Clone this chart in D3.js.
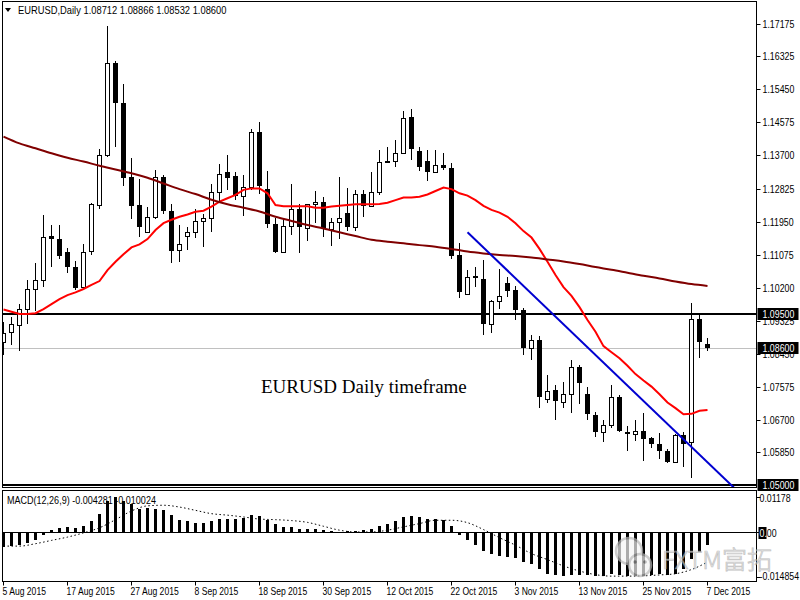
<!DOCTYPE html>
<html>
<head>
<meta charset="utf-8">
<script src="https://cdn.jsdelivr.net/npm/d3@7"></script>
<style>
  body { margin: 0; background: #fff; }
  svg { display: block; }
</style>
</head>
<body>
<div id="chart"></div>
<script>
// bar dates shown on the time axis (one every 8 bars)
const dateLabels = ["5 Aug 2015", "17 Aug 2015", "27 Aug 2015", "8 Sep 2015", "18 Sep 2015", "30 Sep 2015",
    "12 Oct 2015", "22 Oct 2015", "3 Nov 2015", "13 Nov 2015", "25 Nov 2015", "7 Dec 2015"];

// daily OHLC, EURUSD, 5 Aug - 7 Dec 2015
const opens = [1.0878, 1.0903, 1.0922, 1.0963, 1.1016, 1.1040, 1.1157, 1.1148, 1.1114, 1.1074,
    1.1021, 1.1118, 1.1239, 1.1370, 1.1614, 1.1510, 1.1313, 1.1239, 1.1167, 1.1207,
    1.1312, 1.1222, 1.1120, 1.1158, 1.1167, 1.1198, 1.1204, 1.1274, 1.1325, 1.1316,
    1.1264, 1.1286, 1.1433, 1.1281, 1.1188, 1.1116, 1.1184, 1.1228, 1.1177, 1.1241,
    1.1246, 1.1176, 1.1193, 1.1217, 1.1182, 1.1267, 1.1236, 1.1273, 1.1356, 1.1355,
    1.1376, 1.1471, 1.1382, 1.1355, 1.1325, 1.1345, 1.1338, 1.1107, 1.1003, 1.1051,
    1.1044, 1.0924, 1.0985, 1.1032, 1.1014, 1.0962, 1.0862, 1.0882, 1.0726, 1.0750,
    1.0719, 1.0739, 1.0810, 1.0739, 1.0684, 1.0638, 1.0658, 1.0731, 1.0638, 1.0633,
    1.0641, 1.0622, 1.0606, 1.0589, 1.0561, 1.0631, 1.0612, 1.0938, 1.08712];
const highs = [1.0931, 1.0944, 1.0977, 1.1041, 1.1085, 1.1213, 1.1186, 1.1186, 1.1125, 1.1091,
    1.1135, 1.1244, 1.1386, 1.1712, 1.1620, 1.1558, 1.1363, 1.1308, 1.1235, 1.1332,
    1.1318, 1.1241, 1.1186, 1.1182, 1.1228, 1.1214, 1.1294, 1.1347, 1.1371, 1.1325,
    1.1318, 1.1440, 1.1459, 1.1329, 1.1204, 1.1206, 1.1294, 1.1243, 1.1243, 1.1277,
    1.1261, 1.1206, 1.1314, 1.1285, 1.1279, 1.1279, 1.1327, 1.1384, 1.1393, 1.1411,
    1.1488, 1.1493, 1.1393, 1.1384, 1.1384, 1.1376, 1.1349, 1.1138, 1.1067, 1.1076,
    1.1094, 1.0988, 1.1070, 1.1050, 1.1026, 1.0966, 1.0896, 1.0894, 1.0790, 1.0763,
    1.0770, 1.0829, 1.0816, 1.0757, 1.0691, 1.0670, 1.0763, 1.0737, 1.0655, 1.0670,
    1.0688, 1.0627, 1.0636, 1.0594, 1.0633, 1.0638, 1.0979, 1.0953, 1.08866];
const lows = [1.0843, 1.0869, 1.0852, 1.0924, 1.0959, 1.1023, 1.1076, 1.1096, 1.1059, 1.1015,
    1.1017, 1.1107, 1.1228, 1.1367, 1.1393, 1.1288, 1.1202, 1.1155, 1.1164, 1.1203,
    1.1214, 1.1085, 1.1089, 1.1120, 1.1151, 1.1129, 1.1169, 1.1250, 1.1279, 1.1252,
    1.1211, 1.1279, 1.1267, 1.1179, 1.1111, 1.1111, 1.1160, 1.1113, 1.1144, 1.1191,
    1.1155, 1.1132, 1.1148, 1.1170, 1.1170, 1.1208, 1.1234, 1.1266, 1.1352, 1.1340,
    1.1373, 1.1358, 1.1329, 1.1303, 1.1323, 1.1332, 1.1096, 1.0994, 1.1001, 1.1023,
    1.0896, 1.0900, 1.0964, 1.0997, 1.0935, 1.0843, 1.0829, 1.0703, 1.0717, 1.0671,
    1.0703, 1.0688, 1.0712, 1.0671, 1.0627, 1.0613, 1.0649, 1.0638, 1.0590, 1.0616,
    1.0563, 1.0598, 1.0567, 1.0558, 1.0561, 1.0547, 1.0518, 1.0834, 1.08532];
const closes = [1.0900, 1.0924, 1.0963, 1.1016, 1.1040, 1.1154, 1.1148, 1.1105, 1.1074, 1.1019,
    1.1116, 1.1241, 1.1370, 1.1614, 1.1510, 1.1310, 1.1237, 1.1182, 1.1207, 1.1312,
    1.1222, 1.1118, 1.1135, 1.1167, 1.1198, 1.1204, 1.1274, 1.1320, 1.1311, 1.1264,
    1.1286, 1.1433, 1.1288, 1.1188, 1.1116, 1.1184, 1.1228, 1.1182, 1.1241, 1.1246,
    1.1177, 1.1193, 1.1206, 1.1182, 1.1267, 1.1236, 1.1273, 1.1354, 1.1354, 1.1376,
    1.1470, 1.1386, 1.1340, 1.1325, 1.1345, 1.1336, 1.1103, 1.1010, 1.1050, 1.1045,
    1.0924, 1.0984, 1.0999, 1.1012, 1.0962, 1.0862, 1.0882, 1.0732, 1.0748, 1.0722,
    1.0739, 1.0812, 1.0768, 1.0686, 1.0638, 1.0658, 1.0731, 1.0643, 1.0633, 1.0641,
    1.0620, 1.0606, 1.0590, 1.0561, 1.0631, 1.0607, 1.0938, 1.0878, 1.08600];

// red moving average, one value per bar
const fastMa = [1.0963, 1.0957, 1.0951, 1.0951, 1.0953, 1.0964, 1.0977, 1.0990, 1.1001, 1.1008,
    1.1017, 1.1028, 1.1038, 1.1067, 1.1089, 1.1109, 1.1127, 1.1135, 1.1149, 1.1173,
    1.1191, 1.1200, 1.1208, 1.1214, 1.1221, 1.1224, 1.1235, 1.1248, 1.1257, 1.1266,
    1.1279, 1.1283, 1.1283, 1.1270, 1.1239, 1.1236, 1.1236, 1.1236, 1.1236, 1.1232,
    1.1232, 1.1235, 1.1237, 1.1239, 1.1241, 1.1241, 1.1241, 1.1242, 1.1245, 1.1252,
    1.1259, 1.1259, 1.1261, 1.1267, 1.1276, 1.1285, 1.1281, 1.1270, 1.1264, 1.1252,
    1.1237, 1.1226, 1.1219, 1.1208, 1.1191, 1.1170, 1.1153, 1.1123, 1.1089, 1.1054,
    1.1022, 1.0999, 1.0969, 1.0935, 1.0904, 1.0866, 1.0850, 1.0834, 1.0814, 1.0792,
    1.0775, 1.0759, 1.0739, 1.0717, 1.0702, 1.0686, 1.0687, 1.0695, 1.0697];

// dark red (slow) moving average, read every second bar
const slowIdx = [0, 2, 4, 6, 8, 10, 12, 14, 16, 18, 20, 22, 24, 26, 28, 30, 32, 34, 36, 38, 40, 42,
    44, 46, 48, 50, 52, 54, 56, 58, 60, 62, 64, 66, 68, 70, 72, 74, 76, 78, 80, 82, 84, 86, 88];
const slowMa = [1.1420, 1.1402, 1.1389, 1.1376, 1.1364, 1.1354, 1.1343, 1.1333, 1.1323, 1.1311,
    1.1296, 1.1281, 1.1268, 1.1253, 1.1241, 1.1232, 1.1222, 1.1208, 1.1197, 1.1186,
    1.1177, 1.1167, 1.1157, 1.1147, 1.1142, 1.1138, 1.1133, 1.1129, 1.1123, 1.1116,
    1.1111, 1.1107, 1.1104, 1.1100, 1.1095, 1.1090, 1.1083, 1.1075, 1.1068, 1.1060,
    1.1052, 1.1045, 1.1037, 1.1030, 1.1025];

// MACD(12,26,9) histogram, one value per bar
const macd = [-0.0050, -0.0048, -0.0044, -0.0037, -0.0028, -0.0009, 0.0006, 0.0013, 0.0017, 0.0013,
    0.0020, 0.0036, 0.0061, 0.0103, 0.0117, 0.0103, 0.0094, 0.0078, 0.0081, 0.0078,
    0.0072, 0.0056, 0.0041, 0.0036, 0.0031, 0.0031, 0.0036, 0.0042, 0.0044, 0.0044,
    0.0047, 0.0056, 0.0052, 0.0041, 0.0028, 0.0017, 0.0017, 0.0009, 0.0011, 0.0011,
    0.0006, 0.0002, 0.0001, 0.0002, 0.0003, 0.0008, 0.0011, 0.0019, 0.0028, 0.0036,
    0.0050, 0.0052, 0.0050, 0.0044, 0.0042, 0.0041, 0.0019, -0.0009, -0.0028, -0.0044,
    -0.0063, -0.0072, -0.0081, -0.0083, -0.0085, -0.0100, -0.0105, -0.0122, -0.0139, -0.0144,
    -0.0148, -0.0144, -0.0142, -0.0144, -0.0148, -0.0147, -0.0141, -0.0142, -0.0146, -0.0145,
    -0.0146, -0.0142, -0.0139, -0.0142, -0.0139, -0.0122, -0.0091, -0.0067, -0.004281];
// MACD signal line, read every second bar (same indices as slowIdx)
const signal = [-0.0047, -0.0047, -0.0039, -0.0028, -0.0017, -0.0003, 0.0014, 0.0041, 0.0070, 0.0087,
    0.0089, 0.0083, 0.0072, 0.0061, 0.0056, 0.0050, 0.0043, 0.0041, 0.0038, 0.0032,
    0.0019, 0.0006, 0.0000, 0.0000, 0.0006, 0.0017, 0.0028, 0.0039, 0.0039, 0.0031,
    0.0008, -0.0019, -0.0044, -0.0072, -0.0092, -0.0113, -0.0130, -0.0142, -0.0147, -0.0147,
    -0.0146, -0.0143, -0.0139, -0.0125, -0.010024];

// drawn objects
const trendIdx = [58, 91.5];
const trendPrice = [1.1167, 1.0488];
const levels = [1.09500, 1.05000];
const bidPrice = 1.08600;
const priceTicks = ["1.17175", "1.16325", "1.15450", "1.14575", "1.13700", "1.12825", "1.11950",
    "1.11075", "1.10200", "1.09325", "1.08450", "1.07575", "1.06700", "1.05850"];
const macdTicks = ["0.01178", "-0.014854"];

const width = 800;
const height = 600;
const left = 2.5, right = 756.5;
const mainTop = 1.5, mainBottom = 487.5;
const subTop = 490.5, subBottom = 581.5;
const uiFont = "'Liberation Sans', Arial, sans-serif";

const svg = d3.select("#chart")
    .append("svg")
    .attr("width", width)
    .attr("height", height)
    .style("background", "#fff");

// squeeze Arial-like text to the narrow terminal font
function squeeze(sel, k) {
    sel.each(function() {
        const w = this.getComputedTextLength();
        d3.select(this).attr("textLength", w * k).attr("lengthAdjust", "spacingAndGlyphs");
    });
}

const x = d3.scaleLinear().domain([0, 88]).range([3.5, 707.5]);
const y = d3.scaleLinear().domain([1.17175, 1.05]).range([24, 484.6]);
const ym = d3.scaleLinear().domain([0.01178, -0.014854]).range([496.6, 576.6]);

const defs = svg.append("defs");
defs.append("clipPath").attr("id", "mainClip")
    .append("rect").attr("x", left).attr("y", mainTop).attr("width", right - left).attr("height", mainBottom - mainTop);
defs.append("clipPath").attr("id", "subClip")
    .append("rect").attr("x", left).attr("y", subTop).attr("width", right - left).attr("height", subBottom - subTop);

// ---------- main window ----------
const main = svg.append("g").attr("clip-path", "url(#mainClip)");

// bid line
main.append("line")
    .attr("x1", left).attr("x2", right)
    .attr("y1", Math.round(y(bidPrice)) + 0.5).attr("y2", Math.round(y(bidPrice)) + 0.5)
    .attr("stroke", "#c0c0c0").attr("stroke-width", 1);

// horizontal levels
main.selectAll("line.level")
    .data(levels)
    .enter().append("line")
    .attr("class", "level")
    .attr("x1", left).attr("x2", right)
    .attr("y1", d => Math.round(y(d))).attr("y2", d => Math.round(y(d)))
    .attr("stroke", "#000").attr("stroke-width", 2);

const bars = d3.range(opens.length).map(i => ({
    i, o: opens[i], h: highs[i], l: lows[i], c: closes[i]
}));

// wicks
main.append("g")
    .selectAll("line")
    .data(bars)
    .enter().append("line")
    .attr("x1", d => x(d.i)).attr("x2", d => x(d.i))
    .attr("y1", d => y(d.h)).attr("y2", d => y(d.l))
    .attr("stroke", "#000").attr("stroke-width", 1)
    .attr("shape-rendering", "crispEdges");

// bodies
main.append("g")
    .selectAll("rect")
    .data(bars)
    .enter().append("rect")
    .attr("x", d => d.c >= d.o ? x(d.i) - 2 : x(d.i) - 2.5)
    .attr("width", d => d.c >= d.o ? 4 : 5)
    .attr("y", d => d.c >= d.o ? Math.round(y(d.c)) + 0.5 : Math.round(y(d.o)))
    .attr("height", d => {
        const hgt = Math.abs(Math.round(y(d.o)) - Math.round(y(d.c)));
        return d.c >= d.o ? Math.max(hgt, 1) : Math.max(hgt, 2);
    })
    .attr("fill", d => d.c >= d.o ? "#fff" : "#000")
    .attr("stroke", d => d.c >= d.o ? "#000" : "none")
    .attr("stroke-width", 1)
    .attr("shape-rendering", "crispEdges");

// moving averages
const fastLine = d3.line().x((d, i) => x(i)).y(d => y(d));
main.append("path")
    .datum(fastMa)
    .attr("d", fastLine)
    .attr("fill", "none").attr("stroke", "#ff0000").attr("stroke-width", 2);

const slowLine = d3.line().x((d, k) => x(slowIdx[k])).y(d => y(d)).curve(d3.curveMonotoneX);
main.append("path")
    .datum(slowMa)
    .attr("d", slowLine)
    .attr("fill", "none").attr("stroke", "#800000").attr("stroke-width", 2);

// trend line
main.append("line")
    .attr("x1", x(trendIdx[0])).attr("y1", y(trendPrice[0]))
    .attr("x2", x(trendIdx[1])).attr("y2", y(trendPrice[1]))
    .attr("stroke", "#0000d0").attr("stroke-width", 2);

// chart caption
main.append("text")
    .attr("x", 261).attr("y", 393)
    .attr("font-family", "'Liberation Serif', 'Times New Roman', serif")
    .attr("font-size", "19px")
    .attr("fill", "#000")
    .text("EURUSD Daily timeframe");

// header
svg.append("path")
    .attr("d", "M5,8 L11,8 L8,12 Z")
    .attr("fill", "#000");
svg.append("text")
    .attr("x", 18).attr("y", 14)
    .attr("font-family", uiFont).attr("font-size", "11px").attr("fill", "#000")
    .text("EURUSD,Daily  1.08712 1.08866 1.08532 1.08600")
    .call(squeeze, 0.85);

// ---------- MACD window ----------
const sub = svg.append("g").attr("clip-path", "url(#subClip)");

sub.append("line")
    .attr("x1", left).attr("x2", right)
    .attr("y1", Math.round(ym(0)) + 0.5).attr("y2", Math.round(ym(0)) + 0.5)
    .attr("stroke", "#000").attr("stroke-width", 1);

sub.append("g")
    .selectAll("rect")
    .data(macd)
    .enter().append("rect")
    .attr("x", (d, i) => x(i) - 1.5)
    .attr("width", 3)
    .attr("y", d => d >= 0 ? ym(d) : ym(0))
    .attr("height", d => Math.abs(ym(d) - ym(0)))
    .attr("fill", "#000")
    .attr("shape-rendering", "crispEdges");

const sigLine = d3.line().x((d, k) => x(slowIdx[k])).y(d => ym(d)).curve(d3.curveMonotoneX);
sub.append("path")
    .datum(signal)
    .attr("d", sigLine)
    .attr("fill", "none").attr("stroke", "#000").attr("stroke-width", 1)
    .attr("stroke-dasharray", "1.5,2.5");

svg.append("text")
    .attr("x", 7).attr("y", 504)
    .attr("font-family", uiFont).attr("font-size", "11px").attr("fill", "#000")
    .text("MACD(12,26,9) -0.004281 -0.010024")
    .call(squeeze, 0.82);

// ---------- frames ----------
svg.append("rect")
    .attr("x", left).attr("y", mainTop).attr("width", right - left).attr("height", mainBottom - mainTop)
    .attr("fill", "none").attr("stroke", "#000").attr("stroke-width", 1);
svg.append("rect")
    .attr("x", left).attr("y", subTop).attr("width", right - left).attr("height", subBottom - subTop)
    .attr("fill", "none").attr("stroke", "#000").attr("stroke-width", 1);

// ---------- price axis ----------
const axisG = svg.append("g");
axisG.selectAll("line.ptick")
    .data(priceTicks)
    .enter().append("line")
    .attr("class", "ptick")
    .attr("x1", right).attr("x2", right + 4)
    .attr("y1", d => Math.round(y(+d)) + 0.5).attr("y2", d => Math.round(y(+d)) + 0.5)
    .attr("stroke", "#000");
axisG.selectAll("text.ptick")
    .data(priceTicks)
    .enter().append("text")
    .attr("class", "ptick")
    .attr("x", right + 6).attr("y", d => y(+d) + 4)
    .attr("font-family", uiFont).attr("font-size", "11px").attr("fill", "#000")
    .text(d => d)
    .call(squeeze, 0.8);

// price boxes for the levels and bid
const boxes = [levels[0], bidPrice, levels[1]];
const boxG = axisG.selectAll("g.box")
    .data(boxes)
    .enter().append("g").attr("class", "box");
boxG.append("rect")
    .attr("x", right + 1).attr("width", 41)
    .attr("y", d => Math.round(y(d)) - 6).attr("height", 12)
    .attr("fill", "#000");
boxG.append("text")
    .attr("x", right + 6).attr("y", d => y(d) + 4)
    .attr("font-family", uiFont).attr("font-size", "11px").attr("fill", "#fff")
    .text(d => d.toFixed(5))
    .call(squeeze, 0.8);

// MACD axis
axisG.selectAll("line.mtick")
    .data(macdTicks.concat(["0"]))
    .enter().append("line")
    .attr("class", "mtick")
    .attr("x1", right).attr("x2", right + 4)
    .attr("y1", d => Math.round(ym(+d)) + 0.5).attr("y2", d => Math.round(ym(+d)) + 0.5)
    .attr("stroke", "#000");
axisG.selectAll("text.mtick")
    .data(macdTicks)
    .enter().append("text")
    .attr("class", "mtick")
    .attr("x", right + 3).attr("y", d => ym(+d) + (+d > 0 ? 5 : 3))
    .attr("font-family", uiFont).attr("font-size", "11px").attr("fill", "#000")
    .text(d => d)
    .call(squeeze, 0.8);

// zero label with its small value box
axisG.append("rect")
    .attr("x", right + 2).attr("y", Math.round(ym(0)) - 5)
    .attr("width", 8).attr("height", 12)
    .attr("fill", "#000");
const zeroText = axisG.append("text")
    .attr("x", right + 3).attr("y", ym(0) + 5)
    .attr("font-family", uiFont).attr("font-size", "11px").attr("fill", "#000");
zeroText.append("tspan").attr("fill", "#fff").text("0.");
zeroText.append("tspan").text("00");
zeroText.call(squeeze, 0.8);

// ---------- time axis ----------
const tIdx = dateLabels.map((d, k) => k * 8);
axisG.selectAll("line.ttick")
    .data(tIdx)
    .enter().append("line")
    .attr("class", "ttick")
    .attr("x1", d => x(d)).attr("x2", d => x(d))
    .attr("y1", subBottom).attr("y2", subBottom + 4)
    .attr("stroke", "#000");
axisG.selectAll("text.ttick")
    .data(dateLabels)
    .enter().append("text")
    .attr("class", "ttick")
    .attr("x", (d, k) => x(tIdx[k]) - 1).attr("y", 595)
    .attr("font-family", uiFont).attr("font-size", "11px").attr("fill", "#000")
    .text(d => d)
    .call(squeeze, 0.78);

// ---------- watermark ----------
const wm = svg.append("g").attr("opacity", 0.7);
wm.append("circle").attr("cx", 629).attr("cy", 551).attr("r", 13)
    .attr("fill", "#f4f4f4").attr("stroke", "#b8b8b8").attr("stroke-width", 2.5);
wm.append("circle").attr("cx", 640).attr("cy", 565).attr("r", 11)
    .attr("fill", "#f4f4f4").attr("stroke", "#b8b8b8").attr("stroke-width", 2.5);
wm.selectAll("circle.eye")
    .data([[635, 562], [645, 562]])
    .enter().append("circle")
    .attr("class", "eye")
    .attr("cx", d => d[0]).attr("cy", d => d[1]).attr("r", 1.8)
    .attr("fill", "#999");
wm.append("text")
    .attr("x", 662).attr("y", 569)
    .attr("font-family", "'Noto Sans CJK SC', 'Noto Sans', sans-serif")
    .attr("font-weight", 300)
    .attr("font-size", "25px")
    .attr("fill", "#e4e4e4")
    .attr("stroke", "#a8a8a8")
    .attr("stroke-width", 0.7)
    .text("FXTM富拓");
</script>
</body>
</html>
